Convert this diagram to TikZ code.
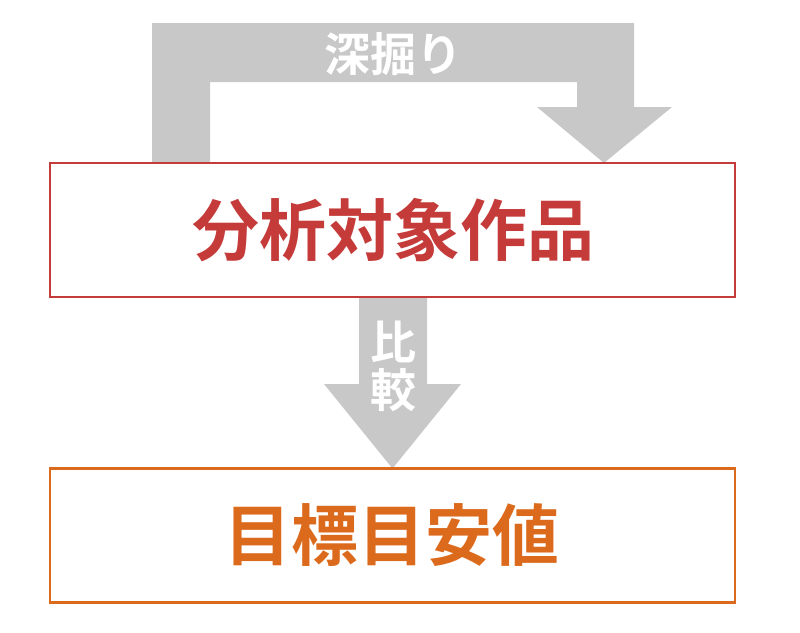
\documentclass[tikz,border=0pt]{standalone}
\usepackage{fontspec}
\newfontfamily\jpb{Noto Sans CJK JP Bold}
\usetikzlibrary{calc}
\definecolor{redc}{HTML}{C43B3A}
\definecolor{orangec}{HTML}{DC6A1C}
\definecolor{grayc}{HTML}{C8C8C8}
\tikzset{
  box/.style={draw=#1, line width=2.4pt, minimum width=685pt, minimum height=134pt, inner sep=0pt, outer sep=0pt, fill=white},
  bigtext/.style={text=#1, font=\jpb\fontsize{67}{67}\selectfont, inner sep=0pt, anchor=base},
  lbl/.style={text=white, font=\jpb\fontsize{46}{46}\selectfont, inner sep=0pt, anchor=base},
  blockarrow/.style={fill=grayc, draw=none}
}
\begin{document}
\begin{tikzpicture}[x=1pt,y=-1pt]
\useasboundingbox (0,0) rectangle (800,632);
% boxes as anchors
\path (392.5,230) node[box=redc, draw=none, fill=none] (b1) {};
\path (392.5,535.5) node[box=orangec, draw=none, fill=none] (b2) {};
% loop arrow (deep dive)
\fill[blockarrow] ($(b1.north west)+(102,0)$) -- (152,23) -- (634,23) -- (634,107)
  -- (672,107) -- ($(b1.north west)+(554,0)$) -- (537,107) -- (577,107) -- (577,82)
  -- (210,82) -- ($(b1.north west)+(160,0)$) -- cycle;
% compare arrow
\fill[blockarrow] ($(b1.south)+(-33.5,0)$) -- ($(b1.south)+(34.5,0)$) -- (427,384)
  -- (461,384) -- (b2.north) -- (324,384) -- (359,384) -- cycle;
% boxes
\node[box=redc, fill=none] at (b1) (b1f) {};
\node[box=orangec, fill=none] at (b2) (b2f) {};
% texts
\node[bigtext=redc] (t1) at (393.5,255.5) {分析対象作品};
\node[bigtext=orangec] (t2) at (392,560) {目標目安値};
\node[lbl] (l1) at (393.5,71.5) {深掘り};
\node[lbl] (l2) at (393,359.5) {比};
\node[lbl] (l3) at (393,407.5) {較};
\end{tikzpicture}
\end{document}
